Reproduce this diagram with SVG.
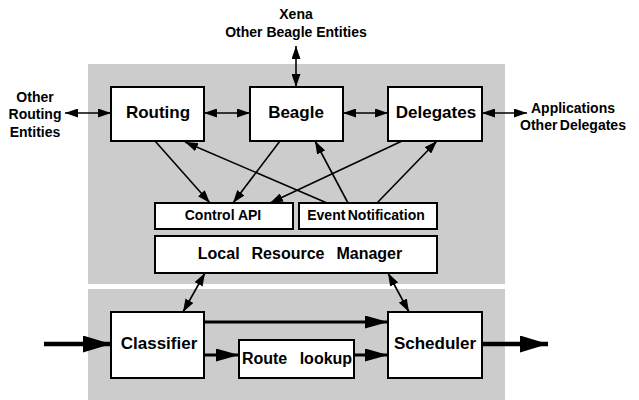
<svg xmlns="http://www.w3.org/2000/svg" width="639" height="400" viewBox="0 0 639 400">
<style>
.panel{fill:#cccccc}
.box{fill:#fff;stroke:#000;stroke-width:2}
.t{font-family:"Liberation Sans",Arial,sans-serif;font-weight:bold;fill:#000;text-anchor:middle}
.lbl{font-size:14px}
.big{font-size:17px}
.sm{font-size:14px}
.thin{stroke:#000;stroke-width:1.6;fill:none}
.mid{stroke:#000;stroke-width:3.2;fill:none}
.fat{stroke:#000;stroke-width:4.5;fill:none}
</style>
<defs>
<marker id="ah" viewBox="0 0 13 9" refX="13" refY="4.5" markerWidth="13" markerHeight="9" markerUnits="userSpaceOnUse" orient="auto-start-reverse"><path d="M0,0 L13,4.5 L0,9 z" fill="#000"/></marker>
<marker id="ahm" viewBox="0 0 23 13" refX="23" refY="6.5" markerWidth="23" markerHeight="13" markerUnits="userSpaceOnUse" orient="auto"><path d="M0,0 L23,6.5 L0,13 z" fill="#000"/></marker>
<marker id="ahb" viewBox="0 0 28 17" refX="28" refY="8.5" markerWidth="28" markerHeight="17" markerUnits="userSpaceOnUse" orient="auto"><path d="M0,0 L28,8.5 L0,17 z" fill="#000"/></marker>
</defs>
<rect class="panel" x="88" y="64" width="417" height="220"/>
<rect class="panel" x="88" y="289" width="417" height="111"/>
<g id="labels">
<text class="t lbl" x="296" y="19">Xena</text>
<text class="t lbl" x="296" y="37">Other Beagle Entities</text>
<text class="t lbl" x="35" y="102">Other</text>
<text class="t lbl" x="35" y="119">Routing</text>
<text class="t lbl" x="35" y="137">Entities</text>
<text class="t lbl" x="573" y="113">Applications</text>
<text class="t lbl" x="573" y="130" word-spacing="-1.5">Other Delegates</text>
</g>
<g id="routing"><rect class="box" x="111" y="87" width="93" height="54"/><text class="t big" x="158" y="118">Routing</text></g>
<g id="beagle"><rect class="box" x="250" y="87" width="93" height="54"/><text class="t big" x="296" y="118">Beagle</text></g>
<g id="delegates"><rect class="box" x="388" y="87" width="94" height="54"/><text class="t big" x="436" y="118">Delegates</text></g>
<g id="controlapi"><rect class="box" x="155" y="203" width="138" height="26"/><text class="t sm" x="223" y="220">Control API</text></g>
<g id="eventnotification"><rect class="box" x="299" y="203" width="138" height="26"/><text class="t sm" x="366" y="220" font-size="13.5" word-spacing="-1.5">Event Notification</text></g>
<g id="lrm"><rect class="box" x="155" y="236" width="282" height="37"/><text class="t" x="300" y="259" font-size="16" word-spacing="7.5">Local Resource Manager</text></g>
<g id="classifier"><rect class="box" x="111" y="312" width="93" height="66"/><text class="t big" x="159" y="349">Classifier</text></g>
<g id="routelookup"><rect class="box" x="239" y="340" width="115" height="38"/><text class="t" x="297" y="364" font-size="16" word-spacing="8">Route lookup</text></g>
<g id="scheduler"><rect class="box" x="388" y="312" width="94" height="66"/><text class="t big" x="435" y="349">Scheduler</text></g>
<g id="connectors">
<line class="thin" x1="296" y1="46" x2="296" y2="87" marker-start="url(#ah)" marker-end="url(#ah)"/>
<line class="thin" x1="65" y1="113" x2="111" y2="113" marker-start="url(#ah)" marker-end="url(#ah)"/>
<line class="thin" x1="204" y1="113" x2="250" y2="113" marker-start="url(#ah)" marker-end="url(#ah)"/>
<line class="thin" x1="343" y1="113" x2="388" y2="113" marker-start="url(#ah)" marker-end="url(#ah)"/>
<line class="thin" x1="482" y1="113" x2="527" y2="113" marker-start="url(#ah)" marker-end="url(#ah)"/>
<line class="thin" x1="155" y1="141" x2="210" y2="203" marker-end="url(#ah)"/>
<line class="thin" x1="280" y1="141" x2="233" y2="203" marker-end="url(#ah)"/>
<line class="thin" x1="402" y1="141" x2="270" y2="203" marker-end="url(#ah)"/>
<line class="thin" x1="327" y1="203" x2="185" y2="142" marker-end="url(#ah)"/>
<line class="thin" x1="348" y1="203" x2="315" y2="141" marker-end="url(#ah)"/>
<line class="thin" x1="377" y1="203" x2="437" y2="141" marker-end="url(#ah)"/>
<line class="thin" x1="205" y1="273" x2="183" y2="312" marker-start="url(#ah)" marker-end="url(#ah)"/>
<line class="thin" x1="388" y1="273" x2="409" y2="312" marker-start="url(#ah)" marker-end="url(#ah)"/>
<line class="fat" x1="44" y1="344" x2="111" y2="344" marker-end="url(#ahb)"/>
<line class="fat" x1="482" y1="344" x2="548" y2="344" marker-end="url(#ahb)"/>
<line class="mid" x1="204" y1="322" x2="388" y2="322" marker-end="url(#ahm)"/>
<line class="mid" x1="204" y1="355" x2="239" y2="355" marker-end="url(#ahm)"/>
<line class="mid" x1="354" y1="355" x2="388" y2="355" marker-end="url(#ahm)"/>
</g>
</svg>
